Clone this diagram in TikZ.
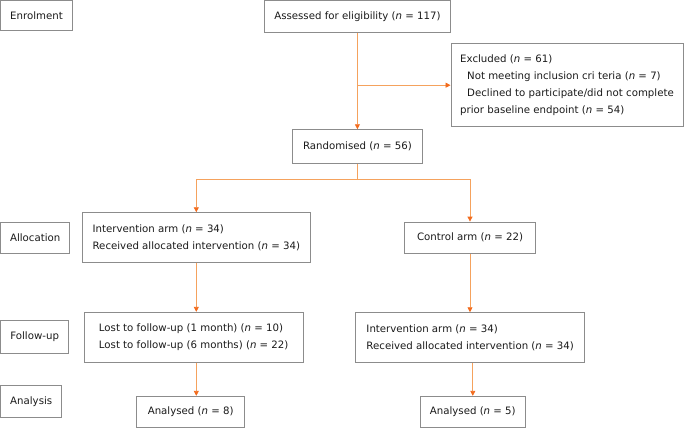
\documentclass[tikz,border=0pt]{standalone}
\usepackage{fontspec}
\setmainfont{DejaVu Sans}
\usetikzlibrary{arrows.meta}
\definecolor{lineor}{HTML}{F5A25D}
\definecolor{tipor}{HTML}{F26B1D}
\definecolor{boxgray}{HTML}{8C8C8C}
\definecolor{txt}{HTML}{1A1A1A}
\newcommand{\nn}{\textit{n}}
\tikzset{
  box/.style={draw=boxgray, line width=0.9pt, rectangle, inner sep=0pt, text=txt,
    font=\fontsize{10.2}{16.7}\selectfont},
  mbox/.style={box, align=left},
  conn/.style={draw=lineor, line width=0.8pt, -{Triangle[length=5pt,width=5pt,fill=tipor,color=tipor]}},
  plain/.style={draw=lineor, line width=0.8pt}
}
\begin{document}
\begin{tikzpicture}[x=1pt,y=-1pt]
\useasboundingbox (0,0) rectangle (686,428);
% stage labels
\node[box, minimum width=72pt, minimum height=30pt] (enrol) at (36.5,15.3) {Enrolment};
\node[box, minimum width=69pt, minimum height=31pt] (alloc) at (35.2,237.8) {Allocation};
\node[box, minimum width=68pt, minimum height=32.5pt] (follow) at (34.7,337) {Follow-up};
\node[box, minimum width=61pt, minimum height=31.3pt] (analysis) at (31.2,401.3) {Analysis};
% main flow
\node[box, minimum width=186.5pt, minimum height=32.5pt] (assess) at (357.4,16.6) {Assessed for eligibility (\nn{} = 117)};
\node[mbox, minimum width=232pt, minimum height=83pt] (excl) at (567,85.2)
  {Excluded (\nn{} = 61)\\
   \hspace*{7pt}Not meeting inclusion cri teria (\nn{} = 7)\\
   \hspace*{7pt}Declined to participate/did not complete\\
   prior baseline endpoint (\nn{} = 54)};
\node[box, minimum width=130.7pt, minimum height=33.6pt] (rand) at (357.4,146.5) {Randomised (\nn{} = 56)};
\node[mbox, minimum width=228pt, minimum height=49.6pt] (iarm) at (196.3,237.5)
  {Intervention arm (\nn{} = 34)\\Received allocated intervention (\nn{} = 34)};
\node[box, minimum width=131.4pt, minimum height=31.3pt] (carm) at (470,237.7) {Control arm (\nn{} = 22)};
\node[mbox, minimum width=218.7pt, minimum height=50pt] (lost) at (193.7,337.3)
  {Lost to follow-up (1 month) (\nn{} = 10)\\Lost to follow-up (6 months) (\nn{} = 22)};
\node[mbox, minimum width=229pt, minimum height=49.6pt] (rarm) at (470.2,337.5)
  {Intervention arm (\nn{} = 34)\\Received allocated intervention (\nn{} = 34)};
\node[box, minimum width=108pt, minimum height=31pt] (an8) at (190.7,411.8) {Analysed (\nn{} = 8)};
\node[box, minimum width=105.7pt, minimum height=31pt] (an5) at (472.8,411.8) {Analysed (\nn{} = 5)};
% connectors
\coordinate (split) at (357.4,179);
\draw[conn] (assess.south) -- (rand.north);
\draw[conn] (assess.south |- excl.west) -- (excl.west);
\draw[plain] (rand.south) -- (split);
\draw[conn] (split) -| (iarm.north);
\draw[conn] (split) -| (carm.north);
\draw[conn] (iarm.south) -- (lost.north -| iarm.south);
\draw[conn] (carm.south) -- (rarm.north -| carm.south);
\draw[conn] (lost.south -| iarm.south) -- (an8.north -| iarm.south);
\draw[conn] (rarm.south -| an5.north) -- (an5.north);
\end{tikzpicture}
\end{document}
